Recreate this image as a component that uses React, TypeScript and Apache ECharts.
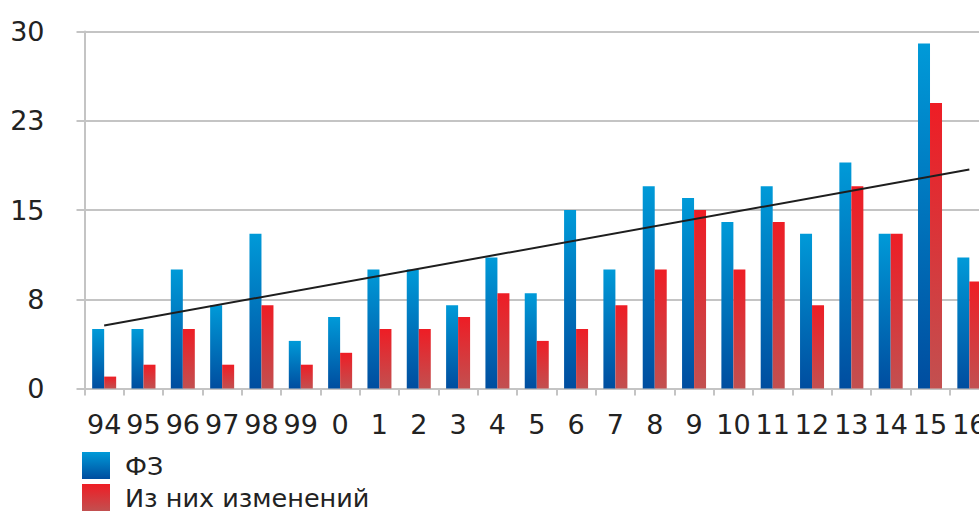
import React, { useEffect, useRef } from "react";
import * as echarts from "echarts";

const categories = ["94", "95", "96", "97", "98", "99", "0", "1", "2", "3", "4", "5", "6", "7", "8", "9", "10", "11", "12", "13", "14", "15", "16"];
const fzValues = [5, 5, 10, 7, 13, 4, 6, 10, 10, 7, 11, 8, 15, 10, 17, 16, 14, 17, 13, 19, 13, 29, 11];
const changesValues = [1, 2, 5, 2, 7, 2, 3, 5, 5, 6, 8, 4, 5, 7, 10, 15, 10, 14, 7, 17, 13, 24, 9];
const trendStart = 5.3;
const trendEnd = 18.4;
const seriesNames = ["ФЗ", "Из них изменений"];

const FONT = "DejaVu Sans";
const GRID_COLOR = "#c4c4c4";

export default function App() {
  const ref = useRef<HTMLDivElement>(null);
  useEffect(() => {
    if (!ref.current) return;
    const chart = echarts.init(ref.current, undefined, { renderer: "svg" });
    const trendData = categories.map((_, i) =>
      i === 0 ? trendStart : i === categories.length - 1 ? trendEnd : null
    );
    const blue = new echarts.graphic.LinearGradient(0, 0, 0, 1, [
      { offset: 0, color: "#009ad8" },
      { offset: 1, color: "#004d9f" },
    ]);
    const red = new echarts.graphic.LinearGradient(0, 0, 0, 1, [
      { offset: 0, color: "#ee1d25" },
      { offset: 1, color: "#c25050" },
    ]);
    chart.setOption({
      animation: false,
      grid: { left: 84.5, width: 904.5, top: 31.5, height: 357, containLabel: false },
      legend: {
        orient: "vertical",
        left: 82,
        top: 452,
        height: 80,
        padding: 0,
        itemWidth: 28,
        itemHeight: 27,
        itemGap: 5,
        icon: "rect",
        data: seriesNames,
        textStyle: { fontSize: 25.5, color: "#222", fontFamily: FONT, padding: [0, 0, 0, 10] },
      },
      xAxis: {
        type: "category",
        data: categories,
        axisLine: { show: true, lineStyle: { color: GRID_COLOR, width: 2 } },
        axisTick: { show: true, length: 7, lineStyle: { color: GRID_COLOR, width: 2 } },
        axisLabel: { interval: 0, fontSize: 27, color: "#222", fontFamily: FONT, margin: 22 },
      },
      yAxis: {
        type: "value",
        min: 0,
        max: 30,
        interval: 7.5,
        axisLine: { show: true, lineStyle: { color: GRID_COLOR, width: 2 } },
        axisTick: { show: true, length: 8, lineStyle: { color: GRID_COLOR, width: 2 } },
        splitLine: { show: true, lineStyle: { color: GRID_COLOR, width: 2 } },
        axisLabel: {
          fontSize: 27,
          color: "#222",
          fontFamily: FONT,
          margin: 40,
          formatter: (v: number) => String(Math.round(v)),
        },
      },
      series: [
        {
          name: seriesNames[0],
          type: "bar",
          data: fzValues,
          barWidth: 12,
          barGap: "0%",
          itemStyle: { color: blue },
        },
        {
          name: seriesNames[1],
          type: "bar",
          data: changesValues,
          barWidth: 12,
          barGap: "0%",
          itemStyle: { color: red },
        },
        {
          name: "trend",
          type: "line",
          data: trendData,
          connectNulls: true,
          symbol: "none",
          lineStyle: { color: "#1e1e1e", width: 2 },
          z: 5,
        },
      ],
    });
    return () => chart.dispose();
  }, []);
  return (
    <div
      style={{ position: "absolute", left: 0, top: 0, width: 979, height: 511, overflow: "hidden" }}
    >
      <div ref={ref} style={{ position: "absolute", left: 0, top: 0, width: 1000, height: 511 }} />
    </div>
  );
}
